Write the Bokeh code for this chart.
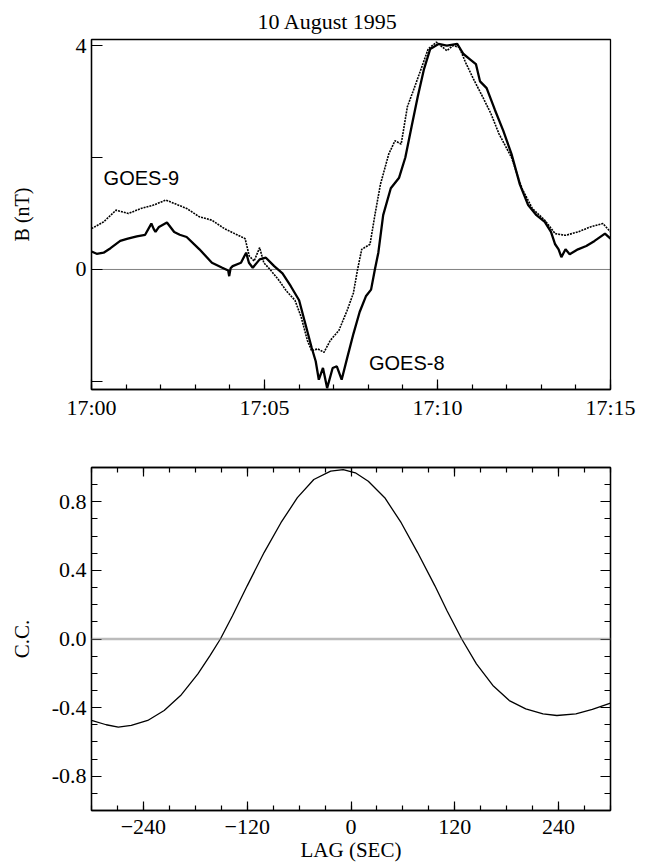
import numpy as np
from bokeh.plotting import figure
from bokeh.models import Range1d, LinearAxis, FixedTicker, Span, CustomLabelingPolicy
from bokeh.layouts import column
from bokeh.embed import file_html
from bokeh.resources import INLINE
from bokeh.core.properties import value

# ---------------- data ----------------
title_text = "10 August 1995"

# minutes after 17:00, B in nT
g8_t = [0.0, 0.15, 0.35, 0.55, 0.83, 1.05, 1.31, 1.55, 1.73, 1.80, 1.85, 1.95, 2.18, 2.39, 2.55,
        2.75, 3.12, 3.48, 3.78, 3.95, 3.98, 4.02, 4.08, 4.32, 4.47, 4.55, 4.66, 4.86, 5.04, 5.28,
        5.52, 5.76, 6.0, 6.18, 6.36, 6.48, 6.57, 6.69, 6.81, 6.97, 7.09, 7.23, 7.39, 7.57, 7.75,
        7.93, 8.08, 8.19, 8.29, 8.43, 8.65, 8.89, 9.07, 9.25, 9.43, 9.61, 9.79, 10.03, 10.27,
        10.57, 10.75, 10.93, 11.11, 11.23, 11.42, 11.66, 11.9, 12.14, 12.38, 12.62, 12.86, 13.1,
        13.28, 13.4, 13.5, 13.58, 13.7, 13.82, 14.06, 14.3, 14.54, 14.84, 15.0]
g8_b = [0.32, 0.28, 0.30, 0.38, 0.51, 0.55, 0.59, 0.62, 0.82, 0.72, 0.67, 0.76, 0.84, 0.67, 0.62,
        0.58, 0.36, 0.12, 0.03, -0.02, -0.12, 0.02, 0.06, 0.12, 0.30, 0.12, 0.03, 0.18, 0.21, 0.06,
        -0.07, -0.30, -0.55, -0.97, -1.39, -1.64, -1.97, -1.76, -2.12, -1.76, -1.73, -1.97, -1.58,
        -1.15, -0.76, -0.48, -0.36, 0.0, 0.30, 0.97, 1.45, 1.64, 2.00, 2.55, 3.09, 3.58, 3.94,
        4.03, 4.00, 4.03, 3.85, 3.76, 3.67, 3.36, 3.24, 2.85, 2.48, 2.06, 1.52, 1.15, 0.97, 0.85,
        0.67, 0.45, 0.36, 0.22, 0.36, 0.27, 0.36, 0.42, 0.51, 0.64, 0.55]

g9_t = [0.0, 0.35, 0.71, 1.07, 1.43, 1.79, 2.15, 2.39, 2.75, 3.12, 3.48, 3.84, 4.14, 4.44,
        4.56, 4.70, 4.86, 4.98, 5.16, 5.40, 5.64, 5.88, 6.06, 6.24, 6.36, 6.54, 6.72, 6.90,
        7.15, 7.39, 7.57, 7.69, 7.81, 8.05, 8.19, 8.35, 8.59, 8.77, 8.95, 9.13, 9.31, 9.49,
        9.73, 9.97, 10.27, 10.45, 10.63, 10.81, 11.05, 11.30, 11.54, 11.78, 12.14, 12.44,
        12.74, 13.1, 13.4, 13.7, 14.06, 14.42, 14.78, 15.0]
g9_b = [0.73, 0.85, 1.06, 1.00, 1.09, 1.15, 1.24, 1.18, 1.09, 0.94, 0.88, 0.73, 0.64, 0.55,
        0.24, 0.15, 0.39, 0.12, 0.0, -0.18, -0.39, -0.55, -0.85, -1.27, -1.45, -1.42, -1.48, -1.27,
        -1.09, -0.73, -0.42, 0.0, 0.36, 0.45, 0.97, 1.52, 2.06, 2.30, 2.24, 2.91, 3.21, 3.52,
        3.94, 4.06, 3.91, 4.00, 3.97, 3.70, 3.39, 3.09, 2.79, 2.42, 2.00, 1.45,
        1.09, 0.88, 0.64, 0.61, 0.67, 0.76, 0.82, 0.67]

sat_names = ["GOES-9", "GOES-8"]
sat_label_t = [0.35, 8.02]
sat_label_b = [1.64, -1.67]

time_ticks = [0, 5, 10, 15]
time_labels = ["17:00", "17:05", "17:10", "17:15"]
b_ticks = [-2, 0, 2, 4]
b_labels = ["", "0", "", "4"]

lag = [-300, -283, -269, -254, -235, -216, -197, -177, -163, -151, -137, -120, -100.5, -81,
       -62, -43, -23.5, -9, 5, 20, 39, 58, 77, 97, 111, 128, 145, 164, 183, 202, 222, 238,
       260, 279, 300]
cc = [-0.475, -0.50, -0.514, -0.504, -0.475, -0.417, -0.33, -0.203, -0.097, 0.0, 0.136, 0.31,
      0.504, 0.678, 0.824, 0.93, 0.979, 0.988, 0.969, 0.92, 0.824, 0.678, 0.504, 0.31, 0.165,
      0.0, -0.145, -0.271, -0.359, -0.407, -0.436, -0.446, -0.436, -0.411, -0.374]

lag_ticks = [-240, -120, 0, 120, 240]
cc_ticks = [-0.8, -0.4, 0.0, 0.4, 0.8]
cc_labels = ["-0.8", "-0.4", "0.0", "0.4", "0.8"]

SERIF = "Liberation Serif"
SANS = "Liberation Sans"
FS = "22px"


def style_axis(ax, tin, mtin):
    ax.axis_line_color = "black"
    ax.axis_line_width = 1.3
    ax.major_tick_line_color = "black"
    ax.major_tick_line_width = 1.2
    ax.minor_tick_line_color = "black"
    ax.minor_tick_line_width = 1.2
    ax.major_tick_in = tin
    ax.major_tick_out = 0
    ax.minor_tick_in = mtin
    ax.minor_tick_out = 0
    ax.major_label_text_font = SERIF
    ax.major_label_text_font_size = FS
    ax.major_label_text_color = "black"
    ax.major_label_standoff = 5
    ax.axis_label_text_font = SERIF
    ax.axis_label_text_font_size = "21px"
    ax.axis_label_text_font_style = "normal"
    ax.axis_label_text_color = "black"


# ---------------- top panel ----------------
p1 = figure(width=637, height=427, x_range=Range1d(0, 15), y_range=Range1d(-2.145, 4.109),
            output_backend="svg", toolbar_location=None,
            min_border_left=88, min_border_right=27, min_border_top=37, min_border_bottom=38)
p1.title.text = title_text
p1.title.text_font = SERIF
p1.title.text_font_size = FS
p1.title.text_font_style = "normal"
p1.title.text_color = "black"
p1.title.align = "left"
p1.title.offset = 166
p1.title.standoff = 12
p1.xgrid.visible = False
p1.ygrid.visible = False
p1.outline_line_color = "black"
p1.outline_line_width = 1.3
p1.background_fill_color = "white"
p1.border_fill_color = "white"

style_axis(p1.xaxis[0], 10, 5)
p1.xaxis[0].ticker = FixedTicker(ticks=time_ticks, minor_ticks=list(range(0, 16)))
p1.xaxis[0].major_label_overrides = {t: l for t, l in zip(time_ticks, time_labels)}

style_axis(p1.yaxis[0], 11, 0)
p1.yaxis[0].ticker = FixedTicker(ticks=b_ticks, minor_ticks=[])
p1.yaxis[0].major_label_overrides = {t: l for t, l in zip(b_ticks, b_labels)}
p1.yaxis[0].minor_tick_line_color = None
p1.yaxis[0].axis_label = "B (nT)"
p1.yaxis[0].axis_label_standoff = 40
p1.yaxis[0].axis_label_text_font_size = "20px"

p1.add_layout(Span(location=0, dimension="width", line_color="black", line_width=1.0,
                   line_dash="1 1"))
p1.line(g9_t, g9_b, line_color="black", line_width=1.6, line_dash="2 1")
p1.line(g8_t, g8_b, line_color="black", line_width=2.3)
p1.text(x=sat_label_t, y=sat_label_b, text=sat_names, text_font=value(SANS),
        text_font_size="20px", text_baseline="middle", text_align="left", text_color="black")

# ---------------- bottom panel ----------------
p2 = figure(width=637, height=442, x_range=Range1d(-300, 300), y_range=Range1d(-1, 1),
            output_backend="svg", toolbar_location=None,
            min_border_left=91, min_border_right=24, min_border_top=40, min_border_bottom=59)
p2.xgrid.visible = False
p2.ygrid.visible = False
p2.outline_line_color = "black"
p2.outline_line_width = 1.3
p2.background_fill_color = "white"
p2.border_fill_color = "white"

x_minor = list(range(-300, 301, 30))
y_minor = [round(v, 1) for v in np.arange(-1.0, 1.001, 0.1)]

style_axis(p2.xaxis[0], 9, 5)
p2.xaxis[0].ticker = FixedTicker(ticks=lag_ticks, minor_ticks=x_minor)
p2.xaxis[0].major_label_standoff = 9
p2.xaxis[0].axis_label = "LAG (SEC)"
p2.xaxis[0].axis_label_standoff = 1

style_axis(p2.yaxis[0], 10, 6)
p2.yaxis[0].ticker = FixedTicker(ticks=cc_ticks, minor_ticks=y_minor)
p2.yaxis[0].major_label_overrides = {t: l for t, l in zip(cc_ticks, cc_labels)}
p2.yaxis[0].axis_label = "C.C."
p2.yaxis[0].axis_label_standoff = 15

ax_top = LinearAxis(ticker=FixedTicker(ticks=lag_ticks, minor_ticks=x_minor))
style_axis(ax_top, 9, 5)
ax_top.major_label_text_font_size = "10px"
ax_top.major_label_standoff = 0
ax_top.major_label_policy = CustomLabelingPolicy(code="return new Set()")
p2.add_layout(ax_top, "above")

ax_right = LinearAxis(ticker=FixedTicker(ticks=cc_ticks, minor_ticks=y_minor))
style_axis(ax_right, 10, 6)
ax_right.major_label_text_font_size = "10px"
ax_right.major_label_standoff = 0
ax_right.major_label_policy = CustomLabelingPolicy(code="return new Set()")
p2.add_layout(ax_right, "right")

p2.add_layout(Span(location=0, dimension="width", line_color="#777777", line_width=2.4,
                   line_dash="1 1"))
p2.line(lag, cc, line_color="black", line_width=1.3)

layout = column(p1, p2, spacing=0)
open("out.html", "w").write(file_html(layout, INLINE))
